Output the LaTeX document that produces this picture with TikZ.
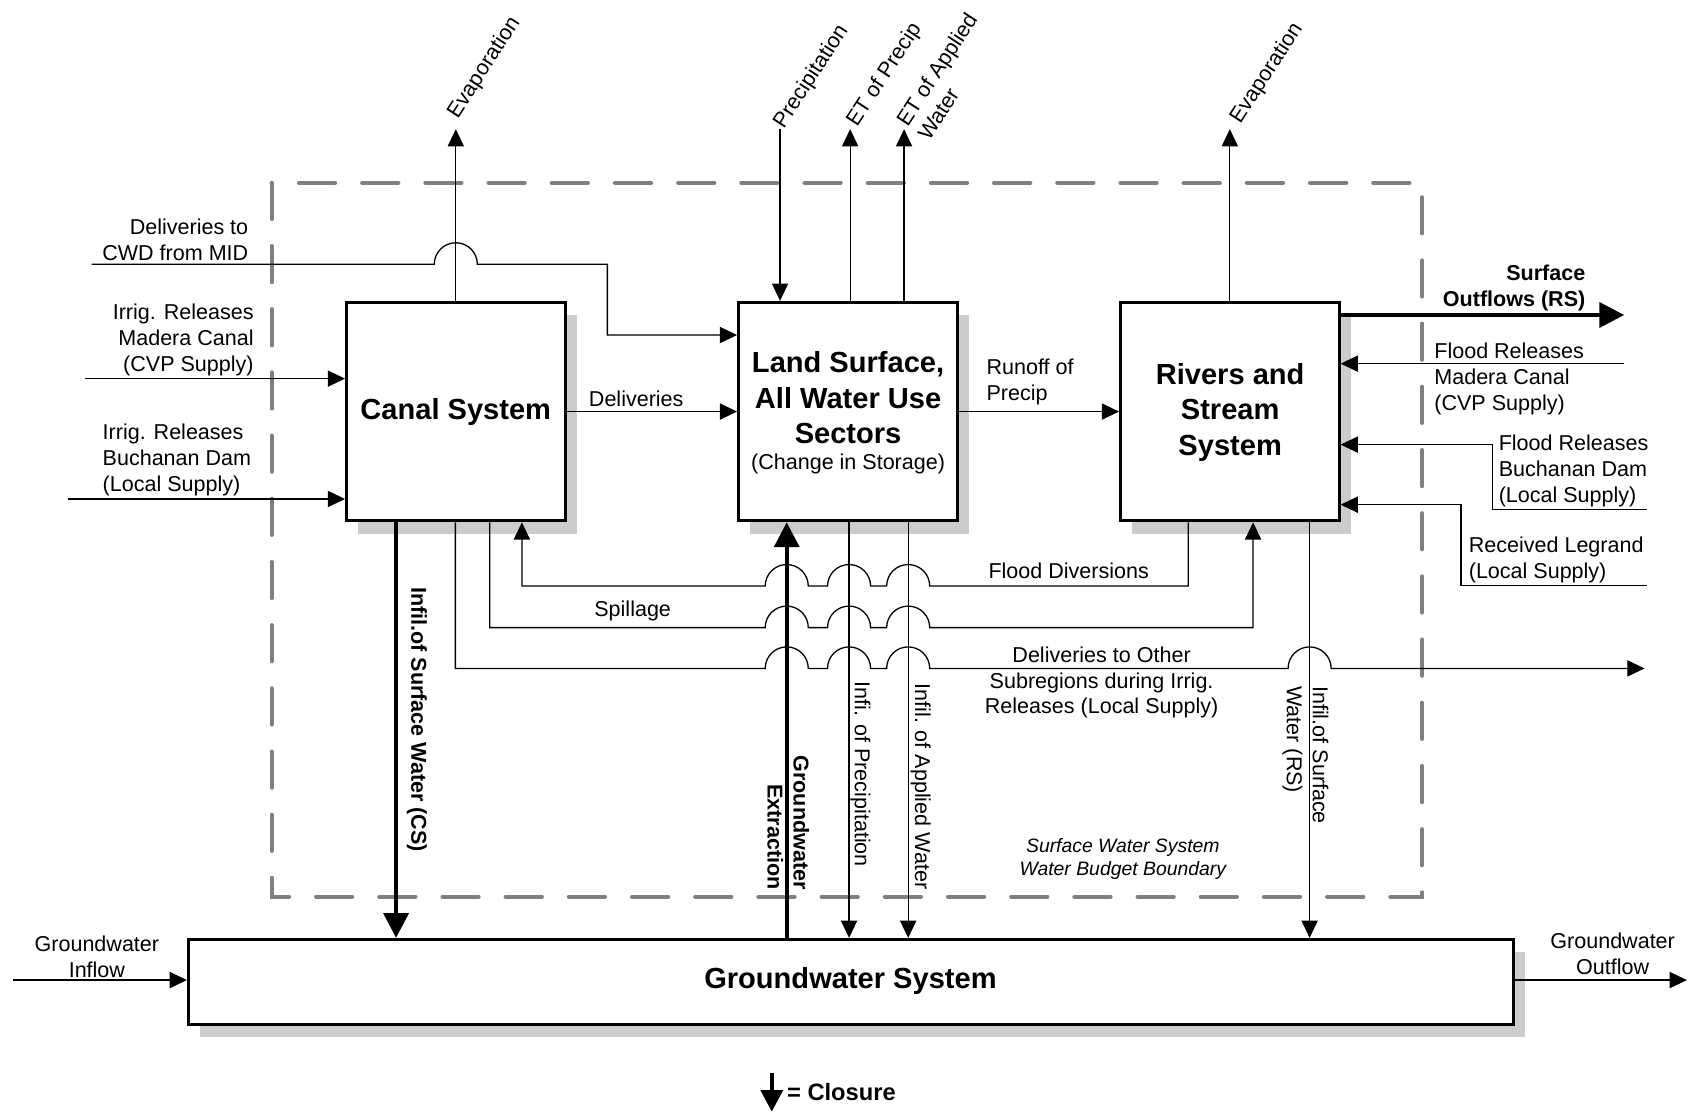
\documentclass[tikz,border=0pt]{standalone}
\usepackage{fontspec}
\setmainfont{Liberation Sans}
\usetikzlibrary{arrows.meta,shadows}
\definecolor{dashgray}{HTML}{7F7F7F}
\definecolor{shadowgray}{HTML}{CCCCCC}
\begin{document}
\begin{tikzpicture}[x=0.5pt,y=-0.5pt,
  box/.style={draw, line width=1.4pt, fill=white, inner sep=0pt,
    minimum width=101.5pt, minimum height=101.5pt,
    drop shadow={shadow xshift=5.5pt, shadow yshift=-6pt, fill=shadowgray, opacity=1}},
  lbl/.style={inner sep=0pt},
  conn/.style={line width=0.6pt, -{Triangle[length=8pt,width=7.5pt]}},
  plain/.style={line width=0.6pt},
  thickarr/.style={line width=2pt, -{Triangle[length=11.5pt,width=11.5pt]}},
  boxtitle/.style={font=\fontsize{13.5}{16.5}\selectfont\bfseries, align=center, inner sep=0pt},
  rot/.style={inner sep=0pt, rotate=57, anchor=base west}
]
\fill[white] (0,0) rectangle (1568,1033);
\useasboundingbox (0,0) rectangle (1568,1033);

% boundary
\draw[dashgray, line width=2pt, line cap=round, dash pattern=on 16.7pt off 12.65pt]
  (252.4,169.9) rectangle (1321,833);

% boxes
\node[box] (canal) at (423.4,382.3) {};
\node[boxtitle] (canalt) at (423.4,382.5) {Canal System};
\node[box] (land) at (787.6,382.3) {};
\node[boxtitle] (landt) at (787.8,369.5) {Land Surface,\\All Water Use\\Sectors};
\node[lbl] (landc) at (787.8,431) {(Change in Storage)};
\node[box] (rivers) at (1142.4,382.3) {};
\node[boxtitle] (riverst) at (1142.7,383) {Rivers and\\Stream\\System};
\node[box, minimum width=615.5pt, minimum height=39.4pt] (gw) at (790.5,912) {};
\node[boxtitle] (gwt) at (790,911.5) {Groundwater System};

% free ends and turning points
\coordinate (cwdin) at (85,245.5);
\coordinate (madin) at (79,351.7);
\coordinate (bucin) at (63,463.5);
\coordinate (evc) at (423.4,120);
\coordinate (prc) at (724.6,119.4);
\coordinate (etp) at (789.7,120);
\coordinate (eta) at (839.8,120);
\coordinate (evr) at (1142.4,120);
\coordinate (sout) at (1508.7,292.6);
\coordinate (fmad) at (1508.7,337.8);
\coordinate (fbuc) at (1529.8,473.4);
\coordinate (fbucT) at (1386.6,413);
\coordinate (leg) at (1529.8,544.1);
\coordinate (legT) at (1357,468.8);
\coordinate (dout) at (1527.6,620.9);
\coordinate (gwin) at (12,910.4);
\coordinate (gwout) at (1567,910.4);
\coordinate (xcs) at (367.9,0);
\coordinate (xdo) at (423,0);
\coordinate (xsp) at (455,0);
\coordinate (xfd) at (484.8,0);
\coordinate (xgwe) at (730.8,0);
\coordinate (xip) at (788.7,0);
\coordinate (xia) at (843.6,0);
\coordinate (xfdr) at (1103.7,0);
\coordinate (xspr) at (1164,0);
\coordinate (xirs) at (1216.5,0);

% connectors
\draw[conn] (cwdin) -- (403.4,245.5) arc[start angle=180,end angle=0,radius=10pt]
  -- (564.2,245.5) -- (564.2,311.2) -- (land.west |- 564.2,311.2);
\draw[conn] (madin) -- (canal.west |- madin);
\draw[conn] (bucin) -- (canal.west |- bucin);
\draw[conn] (canal.north) -- (evc);
\draw[conn] (canal.east) -- (land.west);
\draw[conn] (prc) -- (land.north -| prc);
\draw[conn] (land.north -| etp) -- (etp);
\draw[conn] (land.north -| eta) -- (eta);
\draw[conn] (land.east) -- (rivers.west);
\draw[conn] (rivers.north) -- (evr);
\draw[thickarr] (rivers.east |- sout) -- (sout);
\draw[conn] (fmad) -- (rivers.east |- fmad);
\draw[conn] (fbuc) -- (fbuc -| fbucT) -- (fbucT) -- (rivers.east |- fbucT);
\draw[conn] (leg) -- (leg -| legT) -- (legT) -- (rivers.east |- legT);

\draw[conn] (canal.south -| xdo) -- (423,620.9)
  -- (710.8,620.9) arc[start angle=180,end angle=0,radius=10pt]
  -- (768.7,620.9) arc[start angle=180,end angle=0,radius=10pt]
  -- (823.6,620.9) arc[start angle=180,end angle=0,radius=10pt]
  -- (1196.5,620.9) arc[start angle=180,end angle=0,radius=10pt]
  -- (dout);
\draw[conn] (canal.south -| xsp) -- (455,583)
  -- (710.8,583) arc[start angle=180,end angle=0,radius=10pt]
  -- (768.7,583) arc[start angle=180,end angle=0,radius=10pt]
  -- (823.6,583) arc[start angle=180,end angle=0,radius=10pt]
  -- (1164,583) -- (rivers.south -| xspr);
\draw[conn] (rivers.south -| xfdr) -- (1103.7,544.4)
  -- (863.6,544.4) arc[start angle=0,end angle=180,radius=10pt]
  -- (808.7,544.4) arc[start angle=0,end angle=180,radius=10pt]
  -- (750.8,544.4) arc[start angle=0,end angle=180,radius=10pt]
  -- (484.8,544.4) -- (canal.south -| xfd);

\draw[thickarr] (canal.south -| xcs) -- (gw.north -| xcs);
\draw[thickarr] (gw.north -| xgwe) -- (land.south -| xgwe);
\draw[conn] (land.south -| xip) -- (gw.north -| xip);
\draw[conn] (land.south -| xia) -- (gw.north -| xia);
\draw[conn] (rivers.south -| xirs) -- (gw.north -| xirs);
\draw[conn] (gwin) -- (gw.west |- gwin);
\draw[conn] (gw.east |- gwout) -- (gwout);

% labels
\node[lbl, anchor=east, align=right] (l1) at (231,222.6) {Deliveries to\\CWD from MID};
\node[lbl, anchor=east, align=right] (l2) at (236,316) {Irrig. Releases\\Madera Canal\\(CVP Supply)};
\node[lbl, anchor=west, align=left] (l3) at (95,427) {Irrig. Releases\\Buchanan Dam\\(Local Supply)};
\node[lbl] (l4) at (591,370) {Deliveries};
\node[lbl, anchor=west, align=left] (l5) at (916,355) {Runoff of\\Precip};
\node[lbl, anchor=east, align=right, font=\bfseries] (l6) at (1473,267.5) {Surface\\Outflows (RS)};
\node[lbl, anchor=west, align=left] (l7) at (1332,351.8) {Flood Releases\\Madera Canal\\(CVP Supply)};
\node[lbl, anchor=west, align=left] (l8) at (1391.8,437.5) {Flood Releases\\Buchanan Dam\\(Local Supply)};
\node[lbl, anchor=west, align=left] (l9) at (1364,520.3) {Received Legrand\\(Local Supply)};
\node[lbl] (l10) at (992.7,530.5) {Flood Diversions};
\node[lbl] (l11) at (587.7,567.6) {Spillage};
\node[lbl, align=center] (l12) at (1023.3,634) {Deliveries to Other\\Subregions during Irrig.\\Releases (Local Supply)};
\node[lbl, align=center, font=\fontsize{9}{10.5}\selectfont\itshape] (l13) at (1043,798) {Surface Water System\\Water Budget Boundary};
\node[lbl, align=center] (l14) at (90,888.5) {Groundwater\\Inflow};
\node[lbl, align=center] (l15) at (1498,885.6) {Groundwater\\Outflow};

\node[lbl, rotate=-90, font=\bfseries] (l16) at (387.4,668.5) {Infil.of Surface Water (CS)};
\node[lbl, rotate=-90, font=\bfseries, align=right] (l17) at (732.3,764.1) {Groundwater\\Extraction};
\node[lbl, rotate=-90] (l18) at (799.2,719.2) {Infi. of Precipitation};
\node[lbl, rotate=-90] (l19) at (855.2,730.5) {Infil. of Applied Water};
\node[lbl, rotate=-90, align=left] (l20) at (1212.6,701.4) {Infil.of Surface\\Water (RS)};

\node[rot] (l21) at (425,111) {Evaporation};
\node[rot] (l22) at (728,121) {Precipitation};
\node[rot] (l23) at (796,119) {ET of Precip};
\node[rot] (l24) at (843,119) {ET of Applied};
\node[rot] (l25) at (863,132) {Water};
\node[rot] (l26) at (1152,116) {Evaporation};

% legend
\draw[line width=2pt, -{Triangle[length=10pt,width=10pt]}] (716.9,997) -- (716.9,1032.7);
\node[lbl, anchor=west, font=\fontsize{11}{13}\selectfont\bfseries] (l27) at (730.8,1014) {= Closure};
\end{tikzpicture}
\end{document}
